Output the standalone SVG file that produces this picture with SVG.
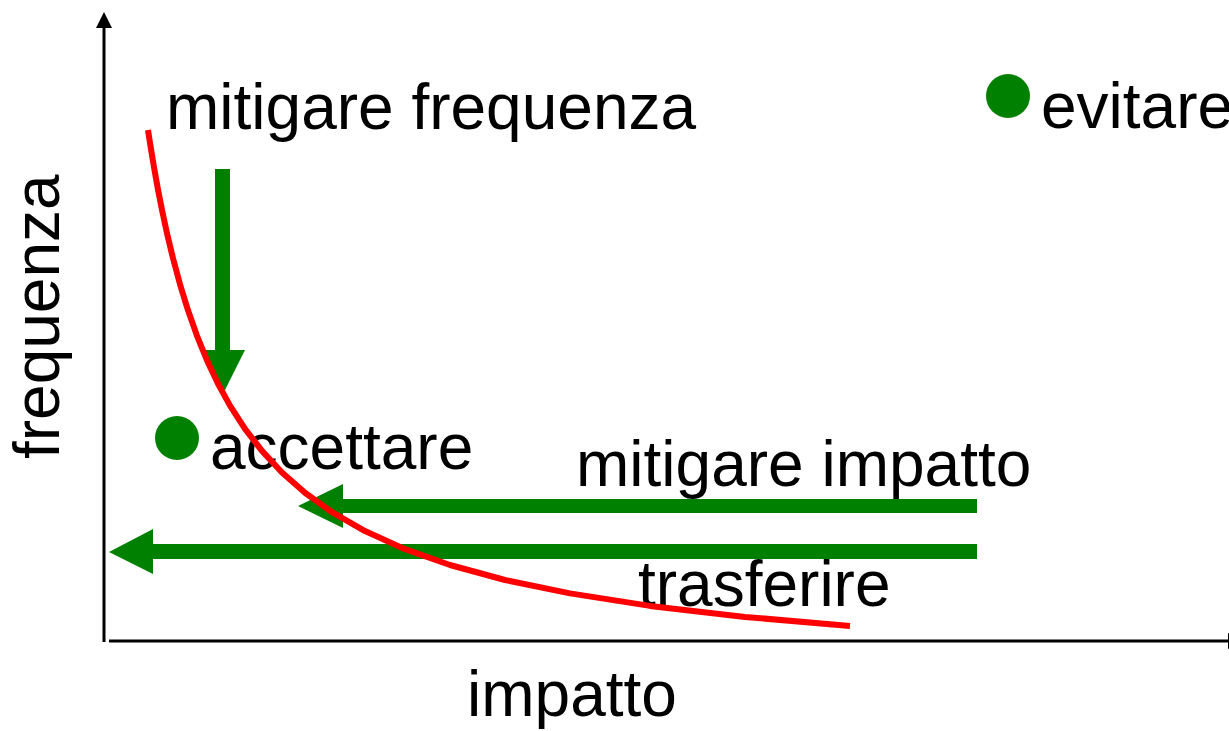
<svg xmlns="http://www.w3.org/2000/svg" width="1229" height="731" viewBox="0 0 1229 731">
<style>
.t{font-family:"Liberation Sans",Arial,sans-serif;font-size:64px;fill:#000}
.ax{stroke:#000;stroke-width:3;fill:none}
.arr{fill:#008000}
.dot{fill:#008000}
.curve{stroke:#ff0000;stroke-width:6;fill:none;stroke-linejoin:round}
</style>
<rect width="1229" height="731" fill="#fff"/>
<g id="axes">
<line class="ax" x1="104" y1="642" x2="104" y2="26"/>
<polygon points="104,12 96,28 112,28" fill="#000"/>
<line class="ax" x1="109" y1="641" x2="1229" y2="641"/>
<polygon points="1228,633 1228,649 1244,641" fill="#000"/>
<text class="t" x="467" y="716">impatto</text>
<text class="t" transform="translate(59,459) rotate(-90)">frequenza</text>
</g>
<g id="node-mitigare-frequenza"><text class="t" x="166" y="129">mitigare frequenza</text></g>
<g id="node-evitare"><circle class="dot" cx="1008" cy="96" r="22"/><text class="t" x="1041" y="128">evitare</text></g>
<g id="node-accettare"><circle class="dot" cx="177" cy="438" r="22"/><text class="t" x="210" y="469">accettare</text></g>
<g id="node-mitigare-impatto"><text class="t" x="576" y="486">mitigare impatto</text></g>
<g id="node-trasferire"><text class="t" x="638" y="606">trasferire</text></g>
<g id="connectors">
<polygon class="arr" points="215,169 230,169 230,350 245,350 223,394 201,350 215,350"/>
<polygon class="arr" points="977,499 977,513 343,513 343,528 298,506 343,484 343,499"/>
<polygon class="arr" points="977,544 977,559 153,559 153,574 109,552 153,529 153,544"/>
</g>
<g id="curve">
<polyline class="curve" points="148,130 150,143 154,167.3 158,189.6 162,210 167,233.3 173,258.3 180,284.3 188,310.3 197,335.8 207,360.4 218,383.7 230,405.6 245,428.8 262,450.9 282,472.5 305,492.8 332,512.2 365,531.1 405,549.2 450,565 505,580 570,593.4 650,605.9 745,616.9 850,626"/>
</g>
</svg>
